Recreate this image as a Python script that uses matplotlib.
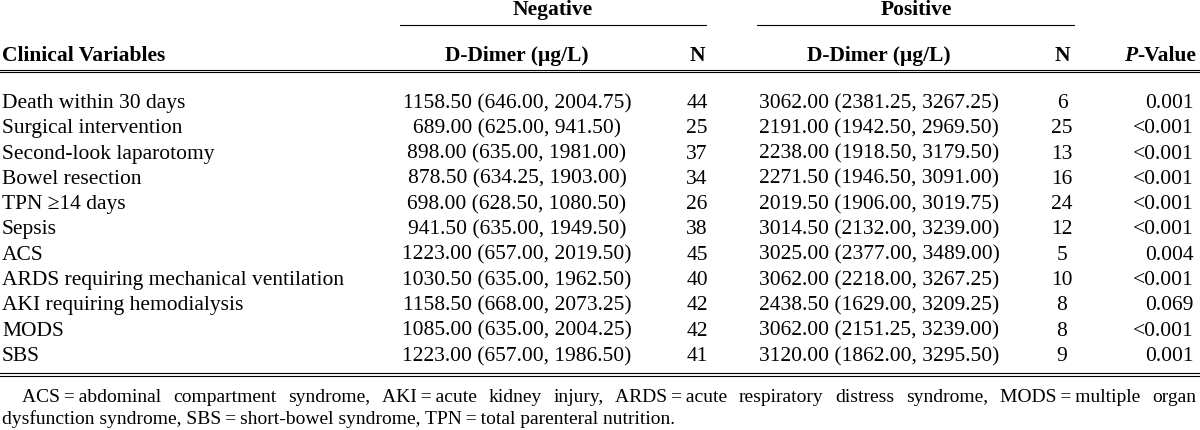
import matplotlib.pyplot as plt

plt.rcParams['font.family'] = ['Liberation Serif', 'DejaVu Serif']

variables = ['Death within 30 days', 'Surgical intervention', 'Second-look laparotomy',
             'Bowel resection', 'TPN \u226514 days', 'Sepsis', 'ACS',
             'ARDS requiring mechanical ventilation', 'AKI requiring hemodialysis',
             'MODS', 'SBS']
neg_median = [1158.50, 689.00, 898.00, 878.50, 698.00, 941.50, 1223.00, 1030.50, 1158.50, 1085.00, 1223.00]
neg_q1 = [646.00, 625.00, 635.00, 634.25, 628.50, 635.00, 657.00, 635.00, 668.00, 635.00, 657.00]
neg_q3 = [2004.75, 941.50, 1981.00, 1903.00, 1080.50, 1949.50, 2019.50, 1962.50, 2073.25, 2004.25, 1986.50]
neg_n = [44, 25, 37, 34, 26, 38, 45, 40, 42, 42, 41]
pos_median = [3062.00, 2191.00, 2238.00, 2271.50, 2019.50, 3014.50, 3025.00, 3062.00, 2438.50, 3062.00, 3120.00]
pos_q1 = [2381.25, 1942.50, 1918.50, 1946.50, 1906.00, 2132.00, 2377.00, 2218.00, 1629.00, 2151.25, 1862.00]
pos_q3 = [3267.25, 2969.50, 3179.50, 3091.00, 3019.75, 3239.00, 3489.00, 3267.25, 3209.25, 3239.00, 3295.50]
pos_n = [6, 25, 13, 16, 24, 12, 5, 10, 8, 8, 9]
p_values = ['0.001', '<0.001', '<0.001', '<0.001', '<0.001', '<0.001', '0.004',
            '<0.001', '0.069', '<0.001', '0.001']

eq = '\u2009=\u2009'
footnote = [f'ACS{eq}abdominal compartment syndrome, AKI{eq}acute kidney injury, ARDS{eq}acute respiratory '
            f'distress syndrome, MODS{eq}multiple organ',
            f'dysfunction syndrome, SBS{eq}short-bowel syndrome, TPN{eq}total parenteral nutrition.']

W, H = 1200, 431
fig = plt.figure(figsize=(W / 100, H / 100), dpi=100)
ax = fig.add_axes([0, 0, 1, 1])
ax.set_xlim(0, W)
ax.set_ylim(H, 0)
ax.axis('off')

fs = 15.5
lw = 0.8

def fmt(m, a, b):
    return f'{m:.2f} ({a:.2f}, {b:.2f})'

# header
ax.text(553, 15, 'Negative', ha='center', va='baseline', fontsize=fs, fontweight='bold')
ax.text(916, 15, 'Positive', ha='center', va='baseline', fontsize=fs, fontweight='bold')
ax.plot([400, 706], [26, 26], color='black', lw=lw)
ax.plot([757, 1074], [26, 26], color='black', lw=lw)

hy = 61
ax.text(2, hy, 'Clinical Variables', ha='left', va='baseline', fontsize=fs, fontweight='bold')
ax.text(517, hy, 'D-Dimer (\u03bcg/L)', ha='center', va='baseline', fontsize=fs, fontweight='bold')
ax.text(697, hy, 'N', ha='center', va='baseline', fontsize=fs, fontweight='bold')
ax.text(879, hy, 'D-Dimer (\u03bcg/L)', ha='center', va='baseline', fontsize=fs, fontweight='bold')
ax.text(1062, hy, 'N', ha='center', va='baseline', fontsize=fs, fontweight='bold')
val = ax.text(1196, hy, '-Value', ha='right', va='baseline', fontsize=fs, fontweight='bold')
fig.canvas.draw()
r = fig.canvas.get_renderer()
bb = val.get_window_extent(r)
ax.text(bb.x0, hy, 'P', ha='right', va='baseline', fontsize=fs, fontweight='bold', fontstyle='italic')

for y in (70.5, 73):
    ax.plot([0, W], [y, y], color='black', lw=lw)

# rows
y0, dy = 108, 25.3
for i, name in enumerate(variables):
    y = y0 + i * dy
    ax.text(2, y, name, ha='left', va='baseline', fontsize=fs)
    ax.text(517, y, fmt(neg_median[i], neg_q1[i], neg_q3[i]), ha='center', va='baseline', fontsize=fs)
    ax.text(697, y, str(neg_n[i]), ha='center', va='baseline', fontsize=fs)
    ax.text(879, y, fmt(pos_median[i], pos_q1[i], pos_q3[i]), ha='center', va='baseline', fontsize=fs)
    ax.text(1062, y, str(pos_n[i]), ha='center', va='baseline', fontsize=fs)
    ax.text(1194, y, p_values[i], ha='right', va='baseline', fontsize=fs)

for y in (374.3, 376.8):
    ax.plot([0, W], [y, y], color='black', lw=lw)

# footnote, first line justified to the right edge
ffs = 14
words = footnote[0].split(' ')
x_start, x_end = 22, 1196
widths = []
for w in words:
    t = ax.text(0, 0, w, fontsize=ffs)
    widths.append(t.get_window_extent(r).width)
    t.remove()
gap = (x_end - x_start - sum(widths)) / (len(words) - 1)
x = x_start
for w, wd in zip(words, widths):
    ax.text(x, 402, w, ha='left', va='baseline', fontsize=ffs)
    x += wd + gap
ax.text(2, 424, footnote[1], ha='left', va='baseline', fontsize=ffs)

fig.savefig('out.png', dpi=100)
